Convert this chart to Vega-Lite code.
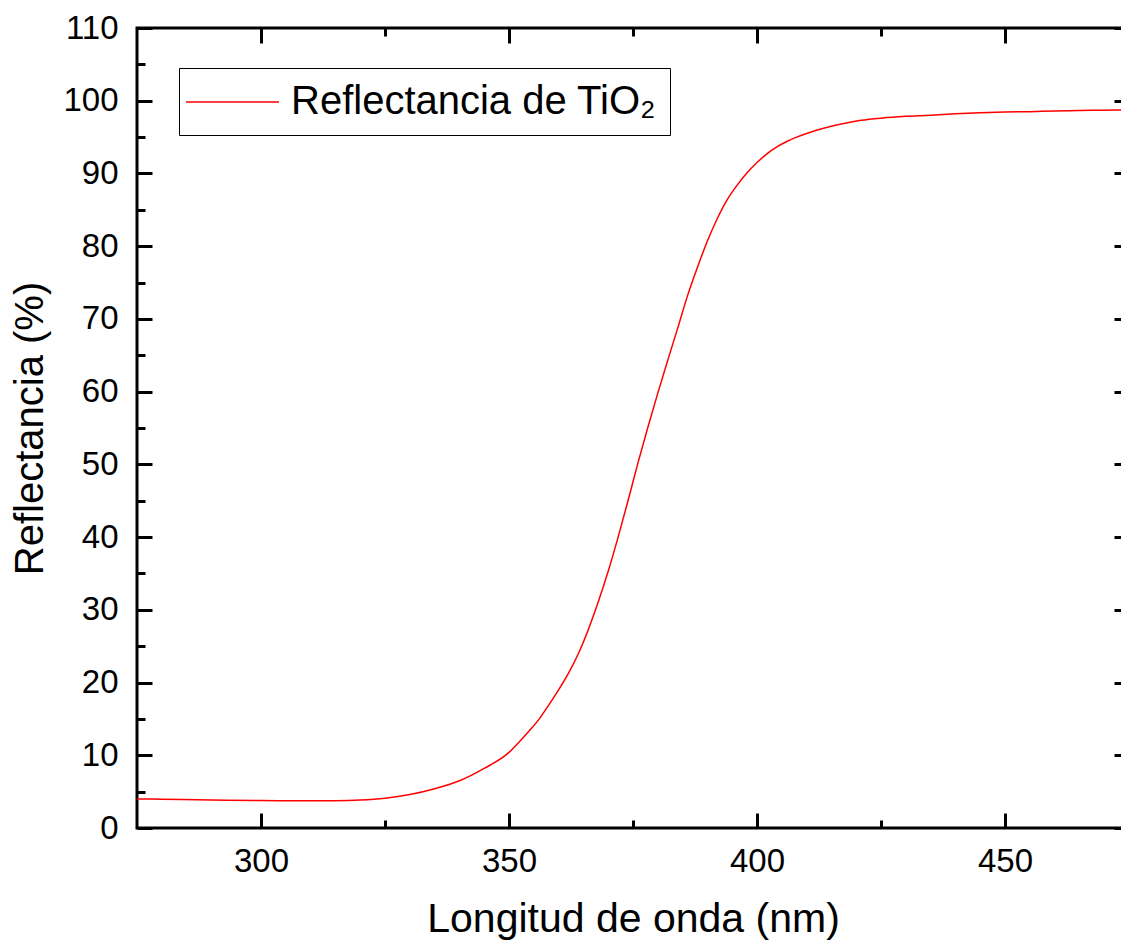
{
  "$schema": "https://vega.github.io/schema/vega-lite/v6.json",
  "width": 992,
  "height": 800,
  "autosize": {"type": "none"},
  "padding": {"left": 137, "top": 28, "right": 0, "bottom": 114},
  "background": "white",
  "config": {
    "view": {"stroke": "black", "strokeWidth": 3},
    "font": "Liberation Sans",
    "axis": {
      "grid": false,
      "domain": false,
      "tickColor": "black",
      "tickWidth": 3,
      "labelColor": "black",
      "titleColor": "black",
      "labelFont": "Liberation Sans",
      "titleFont": "Liberation Sans",
      "labelFontSize": 33,
      "titleFontSize": 40,
      "titleFontWeight": "normal"
    }
  },
  "data": {
    "values": [
      {"wl": 275, "r": 4.0, "s": "Reflectancia de TiO₂"},
      {"wl": 280, "r": 3.95, "s": "Reflectancia de TiO₂"},
      {"wl": 290, "r": 3.85, "s": "Reflectancia de TiO₂"},
      {"wl": 300, "r": 3.78, "s": "Reflectancia de TiO₂"},
      {"wl": 310, "r": 3.75, "s": "Reflectancia de TiO₂"},
      {"wl": 315, "r": 3.76, "s": "Reflectancia de TiO₂"},
      {"wl": 320, "r": 3.85, "s": "Reflectancia de TiO₂"},
      {"wl": 325, "r": 4.1, "s": "Reflectancia de TiO₂"},
      {"wl": 330, "r": 4.6, "s": "Reflectancia de TiO₂"},
      {"wl": 335, "r": 5.4, "s": "Reflectancia de TiO₂"},
      {"wl": 340, "r": 6.5, "s": "Reflectancia de TiO₂"},
      {"wl": 345, "r": 8.2, "s": "Reflectancia de TiO₂"},
      {"wl": 350, "r": 10.4, "s": "Reflectancia de TiO₂"},
      {"wl": 352, "r": 11.8, "s": "Reflectancia de TiO₂"},
      {"wl": 354, "r": 13.3, "s": "Reflectancia de TiO₂"},
      {"wl": 356, "r": 14.9, "s": "Reflectancia de TiO₂"},
      {"wl": 358, "r": 16.9, "s": "Reflectancia de TiO₂"},
      {"wl": 360, "r": 19.0, "s": "Reflectancia de TiO₂"},
      {"wl": 362, "r": 21.3, "s": "Reflectancia de TiO₂"},
      {"wl": 364, "r": 24.0, "s": "Reflectancia de TiO₂"},
      {"wl": 366, "r": 27.3, "s": "Reflectancia de TiO₂"},
      {"wl": 368, "r": 31.1, "s": "Reflectancia de TiO₂"},
      {"wl": 370, "r": 35.3, "s": "Reflectancia de TiO₂"},
      {"wl": 372, "r": 40.0, "s": "Reflectancia de TiO₂"},
      {"wl": 374, "r": 45.0, "s": "Reflectancia de TiO₂"},
      {"wl": 376, "r": 50.2, "s": "Reflectancia de TiO₂"},
      {"wl": 378, "r": 55.1, "s": "Reflectancia de TiO₂"},
      {"wl": 380, "r": 59.8, "s": "Reflectancia de TiO₂"},
      {"wl": 382, "r": 64.3, "s": "Reflectancia de TiO₂"},
      {"wl": 384, "r": 68.7, "s": "Reflectancia de TiO₂"},
      {"wl": 386, "r": 73.2, "s": "Reflectancia de TiO₂"},
      {"wl": 388, "r": 77.1, "s": "Reflectancia de TiO₂"},
      {"wl": 390, "r": 80.7, "s": "Reflectancia de TiO₂"},
      {"wl": 392, "r": 83.8, "s": "Reflectancia de TiO₂"},
      {"wl": 394, "r": 86.4, "s": "Reflectancia de TiO₂"},
      {"wl": 396, "r": 88.4, "s": "Reflectancia de TiO₂"},
      {"wl": 398, "r": 90.1, "s": "Reflectancia de TiO₂"},
      {"wl": 400, "r": 91.5, "s": "Reflectancia de TiO₂"},
      {"wl": 402, "r": 92.7, "s": "Reflectancia de TiO₂"},
      {"wl": 404, "r": 93.65, "s": "Reflectancia de TiO₂"},
      {"wl": 406, "r": 94.4, "s": "Reflectancia de TiO₂"},
      {"wl": 408, "r": 95.0, "s": "Reflectancia de TiO₂"},
      {"wl": 410, "r": 95.5, "s": "Reflectancia de TiO₂"},
      {"wl": 412, "r": 95.95, "s": "Reflectancia de TiO₂"},
      {"wl": 415, "r": 96.5, "s": "Reflectancia de TiO₂"},
      {"wl": 418, "r": 96.95, "s": "Reflectancia de TiO₂"},
      {"wl": 421, "r": 97.3, "s": "Reflectancia de TiO₂"},
      {"wl": 425, "r": 97.6, "s": "Reflectancia de TiO₂"},
      {"wl": 430, "r": 97.85, "s": "Reflectancia de TiO₂"},
      {"wl": 435, "r": 98.0, "s": "Reflectancia de TiO₂"},
      {"wl": 440, "r": 98.2, "s": "Reflectancia de TiO₂"},
      {"wl": 445, "r": 98.35, "s": "Reflectancia de TiO₂"},
      {"wl": 450, "r": 98.45, "s": "Reflectancia de TiO₂"},
      {"wl": 455, "r": 98.5, "s": "Reflectancia de TiO₂"},
      {"wl": 460, "r": 98.6, "s": "Reflectancia de TiO₂"},
      {"wl": 465, "r": 98.65, "s": "Reflectancia de TiO₂"},
      {"wl": 470, "r": 98.7, "s": "Reflectancia de TiO₂"},
      {"wl": 475, "r": 98.75, "s": "Reflectancia de TiO₂"}
    ]
  },
  "layer": [
    {
      "mark": {"type": "line", "strokeWidth": 1.5, "interpolate": "monotone"},
      "encoding": {
        "x": {
          "field": "wl", "type": "quantitative",
          "scale": {"domain": [275, 475], "nice": false, "zero": false},
          "axis": {"orient": "bottom", "values": [300, 350, 400, 450], "tickSize": -15, "labelPadding": 32, "title": "Longitud de onda (nm)", "titleFontSize": 41, "titlePadding": 21}
        },
        "y": {
          "field": "r", "type": "quantitative",
          "scale": {"domain": [0, 110], "nice": false},
          "axis": {"orient": "left", "values": [0, 10, 20, 30, 40, 50, 60, 70, 80, 90, 100, 110], "tickSize": -15, "labelPadding": 34, "title": "Reflectancia (%)", "titlePadding": 12}
        },
        "color": {
          "field": "s", "type": "nominal",
          "scale": {"range": ["#ff0000"]},
          "legend": {
            "orient": "none", "legendX": 42, "legendY": 40, "title": null,
            "symbolType": "M-1.35,0H3.3", "symbolSize": 1600, "symbolStrokeWidth": 1.3,
            "labelFontSize": 40, "labelFont": "Liberation Sans", "labelColor": "black",
            "labelOffset": 57, "labelLimit": 0, "padding": 13,
            "strokeColor": "black", "fillColor": "white"
          }
        }
      }
    },
    {
      "mark": {"type": "line", "opacity": 0},
      "encoding": {
        "x": {"field": "wl", "type": "quantitative", "axis": {"orient": "top", "values": [300, 350, 400, 450], "tickSize": -15, "labels": false, "title": null}},
        "y": {"field": "r", "type": "quantitative", "axis": {"orient": "right", "values": [0, 10, 20, 30, 40, 50, 60, 70, 80, 90, 100, 110], "tickSize": -15, "labels": false, "title": null}}
      }
    },
    {
      "mark": {"type": "line", "opacity": 0},
      "encoding": {
        "x": {"field": "wl", "type": "quantitative", "axis": {"orient": "bottom", "values": [325, 375, 425], "tickSize": -8, "labels": false, "title": null}},
        "y": {"field": "r", "type": "quantitative", "axis": {"orient": "left", "values": [5, 15, 25, 35, 45, 55, 65, 75, 85, 95, 105], "tickSize": -8, "labels": false, "title": null}}
      }
    },
    {
      "mark": {"type": "line", "opacity": 0},
      "encoding": {
        "x": {"field": "wl", "type": "quantitative", "axis": {"orient": "top", "values": [325, 375, 425], "tickSize": -8, "labels": false, "title": null}},
        "y": {"field": "r", "type": "quantitative", "axis": {"orient": "right", "values": [5, 15, 25, 35, 45, 55, 65, 75, 85, 95, 105], "tickSize": -8, "labels": false, "title": null}}
      }
    }
  ],
  "resolve": {"axis": {"x": "independent", "y": "independent"}}
}
